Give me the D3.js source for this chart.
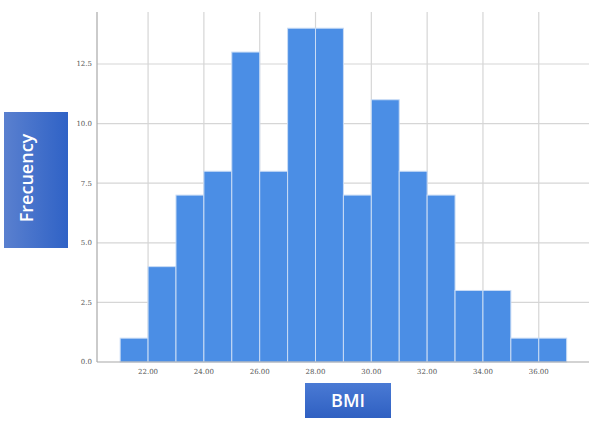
<!DOCTYPE html>
<html><head><meta charset="utf-8">
<script src="https://cdn.jsdelivr.net/npm/d3@7"></script>
<style>body{margin:0;background:#fff}svg{display:block}</style>
</head><body>
<script>
const binStarts = [21,22,23,24,25,26,27,28,29,30,31,32,33,34,35,36];
const counts    = [1,4,7,8,13,8,14,14,7,11,8,7,3,3,1,1];
const xTicks = [22,24,26,28,30,32,34,36];
const yTicks = [0,2.5,5,7.5,10,12.5];
const yLabel = "Frecuency";
const xLabel = "BMI";

const W = 589, H = 424;
const svg = d3.select("body").append("svg").attr("width", W).attr("height", H);
const defs = svg.append("defs");
const g1 = defs.append("linearGradient").attr("id","gy").attr("x1","0").attr("x2","1").attr("y1","0").attr("y2","0");
g1.append("stop").attr("offset","0").attr("stop-color","#5a80cf");
g1.append("stop").attr("offset","1").attr("stop-color","#2f62c6");
const g2 = defs.append("linearGradient").attr("id","gx").attr("x1","0").attr("x2","0").attr("y1","0").attr("y2","1");
g2.append("stop").attr("offset","0").attr("stop-color","#4a7ad4");
g2.append("stop").attr("offset","1").attr("stop-color","#2f60c2");

const x = d3.scaleLinear().domain([20.17, 37.8]).range([97, 589]);
const y = d3.scaleLinear().domain([0, 14.68]).range([362, 12]);

// gridlines
svg.append("g").selectAll("line").data(yTicks.slice(1)).join("line")
  .attr("x1", 97).attr("x2", W).attr("y1", d=>y(d)).attr("y2", d=>y(d))
  .attr("stroke", "#d6d6d6").attr("stroke-width", 1.2);
svg.append("g").selectAll("line").data(xTicks).join("line")
  .attr("x1", d=>x(d)).attr("x2", d=>x(d)).attr("y1", 12).attr("y2", 362)
  .attr("stroke", "#d6d6d6").attr("stroke-width", 1.2);

// bars
svg.append("g").selectAll("rect").data(binStarts).join("rect")
  .attr("x", d=>x(d)).attr("width", d=>x(d+1)-x(d))
  .attr("y", (d,i)=>y(counts[i])).attr("height", (d,i)=>y(0)-y(counts[i]))
  .attr("fill", "#4b8ee5").attr("stroke", "#c9dcf5").attr("stroke-width", 1);

// axes lines
svg.append("line").attr("x1",97).attr("x2",97).attr("y1",12).attr("y2",362).attr("stroke","#a8a8a8").attr("stroke-width",1.2);
svg.append("line").attr("x1",97).attr("x2",W).attr("y1",362).attr("y2",362).attr("stroke","#a8a8a8").attr("stroke-width",1.2);

// tick labels
svg.append("g").selectAll("text").data(yTicks).join("text")
  .attr("x", 92).attr("y", d=>y(d)).attr("dy","0.35em").attr("text-anchor","end")
  .attr("font-family","DejaVu Serif, serif").attr("font-size", 7).attr("fill","#555")
  .text(d=>d3.format(".1f")(d));
svg.append("g").selectAll("text").data(xTicks).join("text")
  .attr("x", d=>x(d)).attr("y", 372).attr("dy","0.35em").attr("text-anchor","middle")
  .attr("font-family","DejaVu Serif, serif").attr("font-size", 7).attr("fill","#555")
  .text(d=>d3.format(".2f")(d));

// label boxes
svg.append("rect").attr("x",4).attr("y",112).attr("width",64).attr("height",136).attr("fill","url(#gy)");
svg.append("text").attr("transform","translate(27,178) rotate(-90)")
  .attr("text-anchor","middle").attr("dy","0.35em")
  .attr("font-family","Open Sans, sans-serif").attr("font-size",18).attr("font-weight",600)
  .attr("fill","#fff").text(yLabel);
svg.append("rect").attr("x",305).attr("y",383).attr("width",86).attr("height",35).attr("fill","url(#gx)");
svg.append("text").attr("x",348).attr("y",401).attr("dy","0.35em").attr("text-anchor","middle")
  .attr("font-family","Open Sans, sans-serif").attr("font-size",18).attr("font-weight",600)
  .attr("fill","#fff").text(xLabel);
</script>
</body></html>
